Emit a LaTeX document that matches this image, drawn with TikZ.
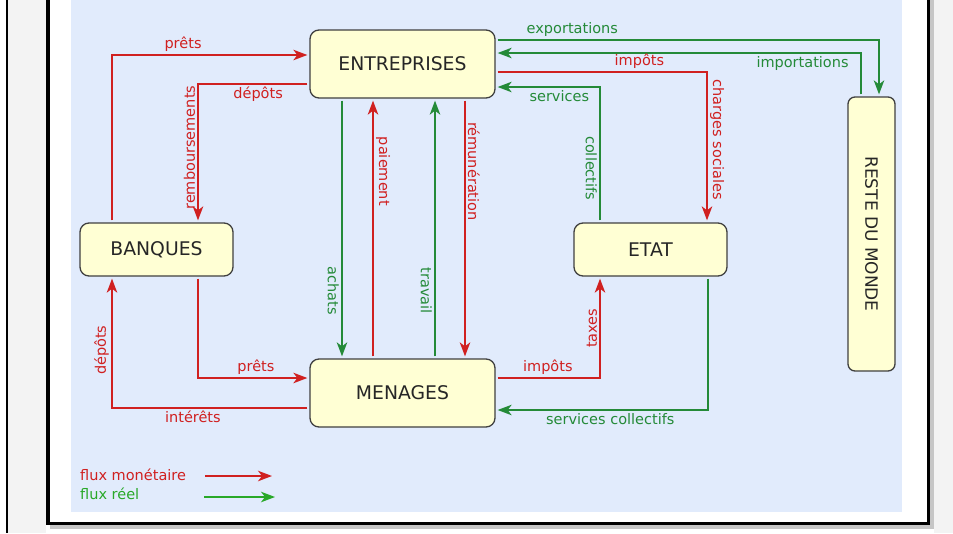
\documentclass[tikz,border=0pt]{standalone}
\usepackage{fontspec}
\usepackage{graphicx}
\setmainfont{DejaVu Sans}
\newfontfamily\etiq{DejaVu Sans}
\usetikzlibrary{arrows.meta,calc}
\definecolor{rouge}{RGB}{208,32,32}
\definecolor{vert}{RGB}{36,138,56}
\definecolor{vertclair}{RGB}{40,168,40}
\definecolor{fond}{RGB}{225,235,252}
\definecolor{jaune}{RGB}{255,255,212}
\definecolor{texture}{RGB}{243,243,243}

\begin{document}
\begin{tikzpicture}[x=1pt,y=-1pt,
		boite/.style={draw=black!75, fill=jaune, line width=1.3pt, rounded corners=9pt,
			font=\fontsize{18.8}{20}\selectfont, text=black!85, inner sep=0pt},
		flux/.style={line width=1.6pt, shorten <=2pt, shorten >=2pt,
			-{Stealth[length=14pt,width=10.5pt,inset=4pt]}},
		monetaire/.style={flux, draw=rouge},
		reel/.style={flux, draw=vert},
		lab/.style={font=\etiq\fontsize{14.5}{16}\selectfont, inner sep=2.2pt},
		labm/.style={lab, text=rouge},
		labr/.style={lab, text=vert}]
		\useasboundingbox (0,0) rectangle (953,533);
		% cadre
		\fill[white] (0,0) rectangle (953,533);
		\fill[texture] (8,0) rectangle (46,533);
		\fill[texture] (934,0) rectangle (953,533);
		\fill[black] (6,0) rectangle (8,533);
		\fill[gray!45] (50,525) rectangle (934,529);
		\fill[gray!45] (930,0) rectangle (934,529);
		\fill[black] (46,0) rectangle (50,525);
		\fill[black] (46,521.5) rectangle (930,525);
		\fill[black] (926.5,0) rectangle (930,525);
		\fill[fond] (71,0) rectangle (902,512);
		% agents
		\node[boite, minimum width=185pt, minimum height=68pt] (entreprises) at (402.5,64) {ENTREPRISES};
		\node[boite, minimum width=153pt, minimum height=53pt] (banques) at (156.5,249.5) {BANQUES};
		\node[boite, minimum width=185pt, minimum height=68pt] (menages) at (402.5,393) {MENAGES};
		\node[boite, minimum width=153pt, minimum height=53pt] (etat) at (650.5,249.5) {ETAT};
		\node[boite, minimum width=47pt, minimum height=274pt, rounded corners=7pt] (reste) at (871.5,234)
			{\rotatebox{-90}{\fontsize{17}{19}\selectfont RESTE DU MONDE}};
		% coudes
		\coordinate (c1) at (112,55);
		\coordinate (c2) at (198,84);
		\coordinate (c3) at (198,378);
		\coordinate (c4) at (112,408);
		\coordinate (c5) at (879,40);
		\coordinate (c6) at (861,53);
		\coordinate (c7) at (707,72);
		\coordinate (c8) at (600,87);
		\coordinate (c9) at (600,378);
		\coordinate (c10) at (708,410);
		\coordinate (ca) at (342,0);
		\coordinate (cp) at (373,0);
		\coordinate (ct) at (435,0);
		\coordinate (cr) at (465,0);
		% banques
		\draw[monetaire] (banques.north -| c1) |- node[labm, above, pos=0.68] (l1) {prêts} (entreprises.west |- c1);
		\draw[monetaire] (entreprises.west |- c2) -| node[labm, below, pos=0.23] (l2) {dépôts}
			node[labm, rotate=90, anchor=south, pos=0.73] (l3) {remboursements} (banques.north -| c2);
		\draw[monetaire] (banques.south -| c3) |- node[labm, above, pos=0.76] (l4) {prêts} (menages.west |- c3);
		\draw[monetaire] (menages.west |- c4) -| node[labm, below, pos=0.295] (l5) {intérêts}
			node[labm, rotate=90, anchor=south, pos=0.72] (l6) {dépôts} (banques.south -| c4);
		% entreprises - menages
		\draw[reel] (entreprises.south -| ca) -- node[labr, rotate=-90, anchor=north, pos=0.74] (l7) {achats} (menages.north -| ca);
		\draw[monetaire] (menages.north -| cp) -- node[labm, rotate=-90, anchor=south, pos=0.72] (l8) {paiement} (entreprises.south -| cp);
		\draw[reel] (menages.north -| ct) -- node[labr, rotate=-90, anchor=north, pos=0.26] (l9) {travail} (entreprises.south -| ct);
		\draw[monetaire] (entreprises.south -| cr) -- node[labm, rotate=-90, anchor=south, pos=0.28] (l10) {rémunération} (menages.north -| cr);
		% reste du monde
		\draw[reel] (entreprises.east |- c5) -| node[labr, above, pos=0.1] (l11) {exportations} (reste.north -| c5);
		\draw[reel] (reste.north -| c6) |- node[labr, below, pos=0.58] (l12) {importations} (entreprises.east |- c6);
		% etat
		\draw[monetaire] (entreprises.east |- c7) -| node[labm, above, pos=0.34] (l13) {impôts}
			node[labm, rotate=-90, anchor=south, pos=0.725] (l14) {charges sociales} (etat.north -| c7);
		\draw[reel] (etat.north -| c8) |- node[labr, rotate=-90, anchor=north, pos=0.2] (l15) {collectifs}
			node[labr, below, pos=0.695] (l16) {services} (entreprises.east |- c8);
		\draw[monetaire] (menages.east |- c9) -| node[labm, above, pos=0.25] (l17) {impôts}
			node[labm, rotate=90, anchor=south, pos=0.745] (l18) {taxes} (etat.south -| c9);
		\draw[reel] (etat.south -| c10) |- node[labr, below, pos=0.73] (l19) {services collectifs} (menages.east |- c10);
		% legende
		\node[labm, anchor=west, inner sep=0pt] (legm) at (80,475) {flux monétaire};
		\node[lab, text=vertclair, anchor=west, inner sep=0pt] (legr) at (80,494) {flux réel};
		\coordinate (m1) at (205,476);
		\coordinate (m2) at (272,476);
		\coordinate (r1) at (204,497);
		\coordinate (r2) at (275,497);
		\draw[flux, draw=rouge, shorten <=0pt, shorten >=0pt] (m1) -- (m2);
		\draw[flux, draw=vertclair, shorten <=0pt, shorten >=0pt] (r1) -- (r2);
	\end{tikzpicture}
\end{document}
